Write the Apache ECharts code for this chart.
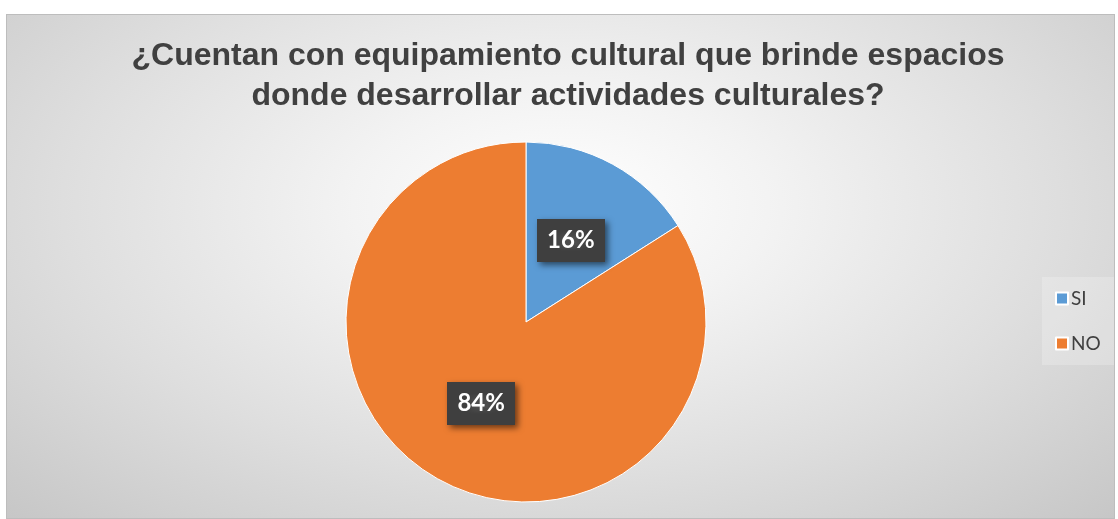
<!DOCTYPE html>
<html>
<head>
<meta charset="utf-8">
<script src="https://cdn.jsdelivr.net/npm/echarts@6/dist/echarts.min.js"></script>
<style>
  html, body { margin: 0; padding: 0; background: #ffffff; width: 1118px; height: 519px; overflow: hidden; }
  #box {
    position: absolute; left: 6px; top: 14px; width: 1109px; height: 505px;
    box-sizing: border-box; border: 1px solid #bdbdbd;
    background: radial-gradient(ellipse 75% 90% at 50% 38%, #ffffff 0%, #f3f3f3 25%, #dedede 60%, #c4c4c4 100%);
  }
  #chart { width: 100%; height: 100%; }
</style>
</head>
<body>
<div id="box"><div id="chart"></div></div>
<script>
const titleText = '¿Cuentan con equipamiento cultural que brinde espacios\ndonde desarrollar actividades culturales?';
const categories = ['SI', 'NO'];
const values = [16, 84];
const colors = ['#5b9bd5', '#ed7d31'];

// dotted dark pattern for label boxes
const pat = document.createElement('canvas');
pat.width = 6; pat.height = 6;
const pctx = pat.getContext('2d');
pctx.fillStyle = '#3f3f3f';
pctx.fillRect(0, 0, 6, 6);
pctx.fillStyle = '#4d4d4d';
pctx.fillRect(2, 2, 2, 2);

const chart = echarts.init(document.getElementById('chart'), null, { renderer: 'canvas' });
chart.setOption({
  backgroundColor: 'transparent',
  animation: false,
  title: {
    text: titleText,
    left: 556,
    textAlign: 'center',
    top: 16,
    textStyle: {
      fontFamily: 'Liberation Sans, Arial, sans-serif',
      fontWeight: 'bold',
      fontSize: 32,
      lineHeight: 40,
      color: '#404040'
    }
  },
  legend: {
    orient: 'vertical',
    left: 1035,
    top: 262,
    data: categories,
    icon: 'rect',
    itemWidth: 12,
    itemHeight: 12,
    itemGap: 26,
    padding: [12, 14, 12, 13],
    backgroundColor: 'rgba(255,255,255,0.22)',
    textStyle: {
      fontFamily: 'Lato, Open Sans, sans-serif',
      fontSize: 19,
      color: '#404040',
      padding: [0, 0, 0, -2]
    }
  },
  series: [{
    type: 'pie',
    center: [519, 307],
    radius: 180,
    startAngle: 90,
    clockwise: true,
    data: categories.map((c, i) => ({ name: c, value: values[i], itemStyle: { color: colors[i] } })),
    itemStyle: { borderColor: '#ffffff', borderWidth: 1 },
    label: {
      show: true,
      position: 'inside',
      formatter: '{d}%',
      fontFamily: 'Lato, Open Sans, sans-serif',
      fontWeight: 'bold',
      fontSize: 24,
      color: '#ffffff',
      backgroundColor: { image: pat, repeat: 'repeat' },
      padding: [10, 10, 9, 10],
      shadowColor: 'rgba(0,0,0,0.55)',
      shadowBlur: 6,
      shadowOffsetX: 3,
      shadowOffsetY: 3
    },
    labelLine: { show: false },
    emphasis: { disabled: true }
  }]
});
</script>
</body>
</html>
